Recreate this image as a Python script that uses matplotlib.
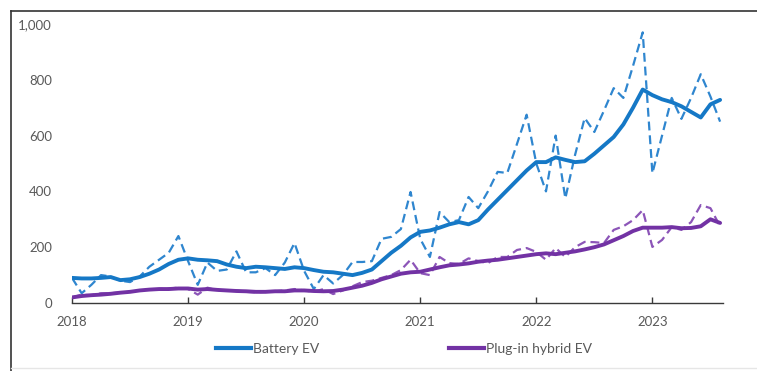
import matplotlib
matplotlib.use("Agg")
import matplotlib.pyplot as plt
from matplotlib.lines import Line2D

# Monthly electric vehicle sales, January 2018 - August 2023 (thousands)
months = list(range(68))

bev_monthly = [90, 35, 65, 100, 95, 80, 75, 95, 130, 155, 180, 240,
               150, 65, 145, 115, 120, 185, 110, 110, 125, 100, 145, 215,
               115, 50, 100, 70, 100, 147, 147, 150, 230, 237, 265, 398,
               230, 165, 326, 290, 297, 380, 340, 400, 470, 466, 570, 675,
               500, 400, 600, 375, 530, 663, 613, 690, 770, 735, 850, 970,
               465, 600, 735, 660, 735, 820, 740, 650]

bev_trend = [90, 88, 88, 90, 93, 82, 85, 93, 105, 120, 140, 155,
             160, 155, 153, 150, 138, 130, 125, 130, 128, 125, 122, 128,
             125, 118, 112, 110, 105, 100, 108, 120, 150, 180, 205, 235,
             255, 260, 270, 282, 290, 282, 297, 335, 370, 405, 440, 475,
             505, 505, 522, 513, 505, 508, 535, 565, 595, 640, 700, 765,
             745, 730, 720, 705, 685, 665, 712, 728]

phev_monthly = [20, 30, 28, 35, 35, 38, 40, 45, 48, 50, 52, 55,
                50, 30, 55, 45, 45, 45, 40, 38, 40, 42, 45, 50,
                45, 40, 50, 32, 45, 60, 75, 80, 90, 100, 118, 155,
                107, 100, 165, 143, 140, 160, 150, 143, 165, 165, 190, 197,
                183, 155, 197, 165, 200, 219, 218, 215, 262, 275, 297, 333,
                201, 226, 272, 262, 290, 351, 340, 275]

phev_trend = [20, 25, 28, 30, 33, 37, 40, 45, 48, 50, 50, 52,
              52, 48, 50, 47, 45, 43, 42, 40, 40, 42, 42, 45,
              45, 43, 42, 43, 48, 55, 62, 72, 85, 95, 105, 110,
              112, 120, 128, 135, 138, 142, 148, 152, 155, 160, 165, 170,
              175, 178, 175, 180, 185, 192, 200, 210, 225, 240, 258, 270,
              270, 270, 272, 268, 269, 275, 300, 287]

year_ticks = [0, 12, 24, 36, 48, 60]
year_labels = ["2018", "2019", "2020", "2021", "2022", "2023"]
y_ticks = [0, 200, 400, 600, 800, 1000]
y_labels = ["0", "200", "400", "600", "800", "1,000"]

BLUE = "#1578c6"
BLUE_DASH = "#2f86cf"
PURPLE = "#7232a4"
PURPLE_DASH = "#8c55b8"
TEXT = "#595959"

plt.rcParams["font.family"] = ["Lato", "DejaVu Sans"]

fig = plt.figure(figsize=(7.57, 3.71), dpi=100)
ax = fig.add_axes([72 / 757, 1 - 303 / 371, 651 / 757, 279 / 371])

ax.plot(months, bev_monthly, color=BLUE_DASH, lw=1.6, ls=(0, (4, 2.2)))
ax.plot(months, phev_monthly, color=PURPLE_DASH, lw=1.6, ls=(0, (4, 2.2)))
ax.plot(months, bev_trend, color=BLUE, lw=2.8, solid_capstyle="round")
ax.plot(months, phev_trend, color=PURPLE, lw=2.8, solid_capstyle="round")

ax.set_xlim(0, 67.3)
ax.set_ylim(0, 1000)
ax.set_xticks(year_ticks)
ax.set_xticklabels(year_labels)
ax.set_yticks(y_ticks)
ax.set_yticklabels(y_labels)

for side in ("top", "right", "left"):
    ax.spines[side].set_visible(False)
ax.spines["bottom"].set_color("#3a3a3a")
ax.spines["bottom"].set_linewidth(1.0)

ax.tick_params(axis="x", direction="in", length=4, width=1, color="#3a3a3a",
               labelsize=9.5, labelcolor=TEXT, pad=9)
ax.tick_params(axis="y", length=0, labelsize=9.5, labelcolor=TEXT, pad=14.4)

handles = [Line2D([], [], color=BLUE, lw=3), Line2D([], [], color=PURPLE, lw=3)]
fig.legend(handles, ["Battery EV", "Plug-in hybrid EV"], loc="center",
           bbox_to_anchor=(404 / 757, 1 - 349 / 371), ncol=2, frameon=False,
           fontsize=10, handlelength=2.5, handletextpad=0.1, columnspacing=9.4,
           labelcolor=TEXT)

# Panel frame
fig.add_artist(Line2D([11 / 757, 11 / 757], [0, 1 - 11 / 371],
                      transform=fig.transFigure, color="#333333", lw=1.2))
fig.add_artist(Line2D([11 / 757, 1], [1 - 11 / 371, 1 - 11 / 371],
                      transform=fig.transFigure, color="#333333", lw=1.2))
fig.add_artist(Line2D([11 / 757, 1], [1 - 368 / 371, 1 - 368 / 371],
                      transform=fig.transFigure, color="#e6e6e6", lw=1.0))

fig.savefig("out.png", dpi=100)
